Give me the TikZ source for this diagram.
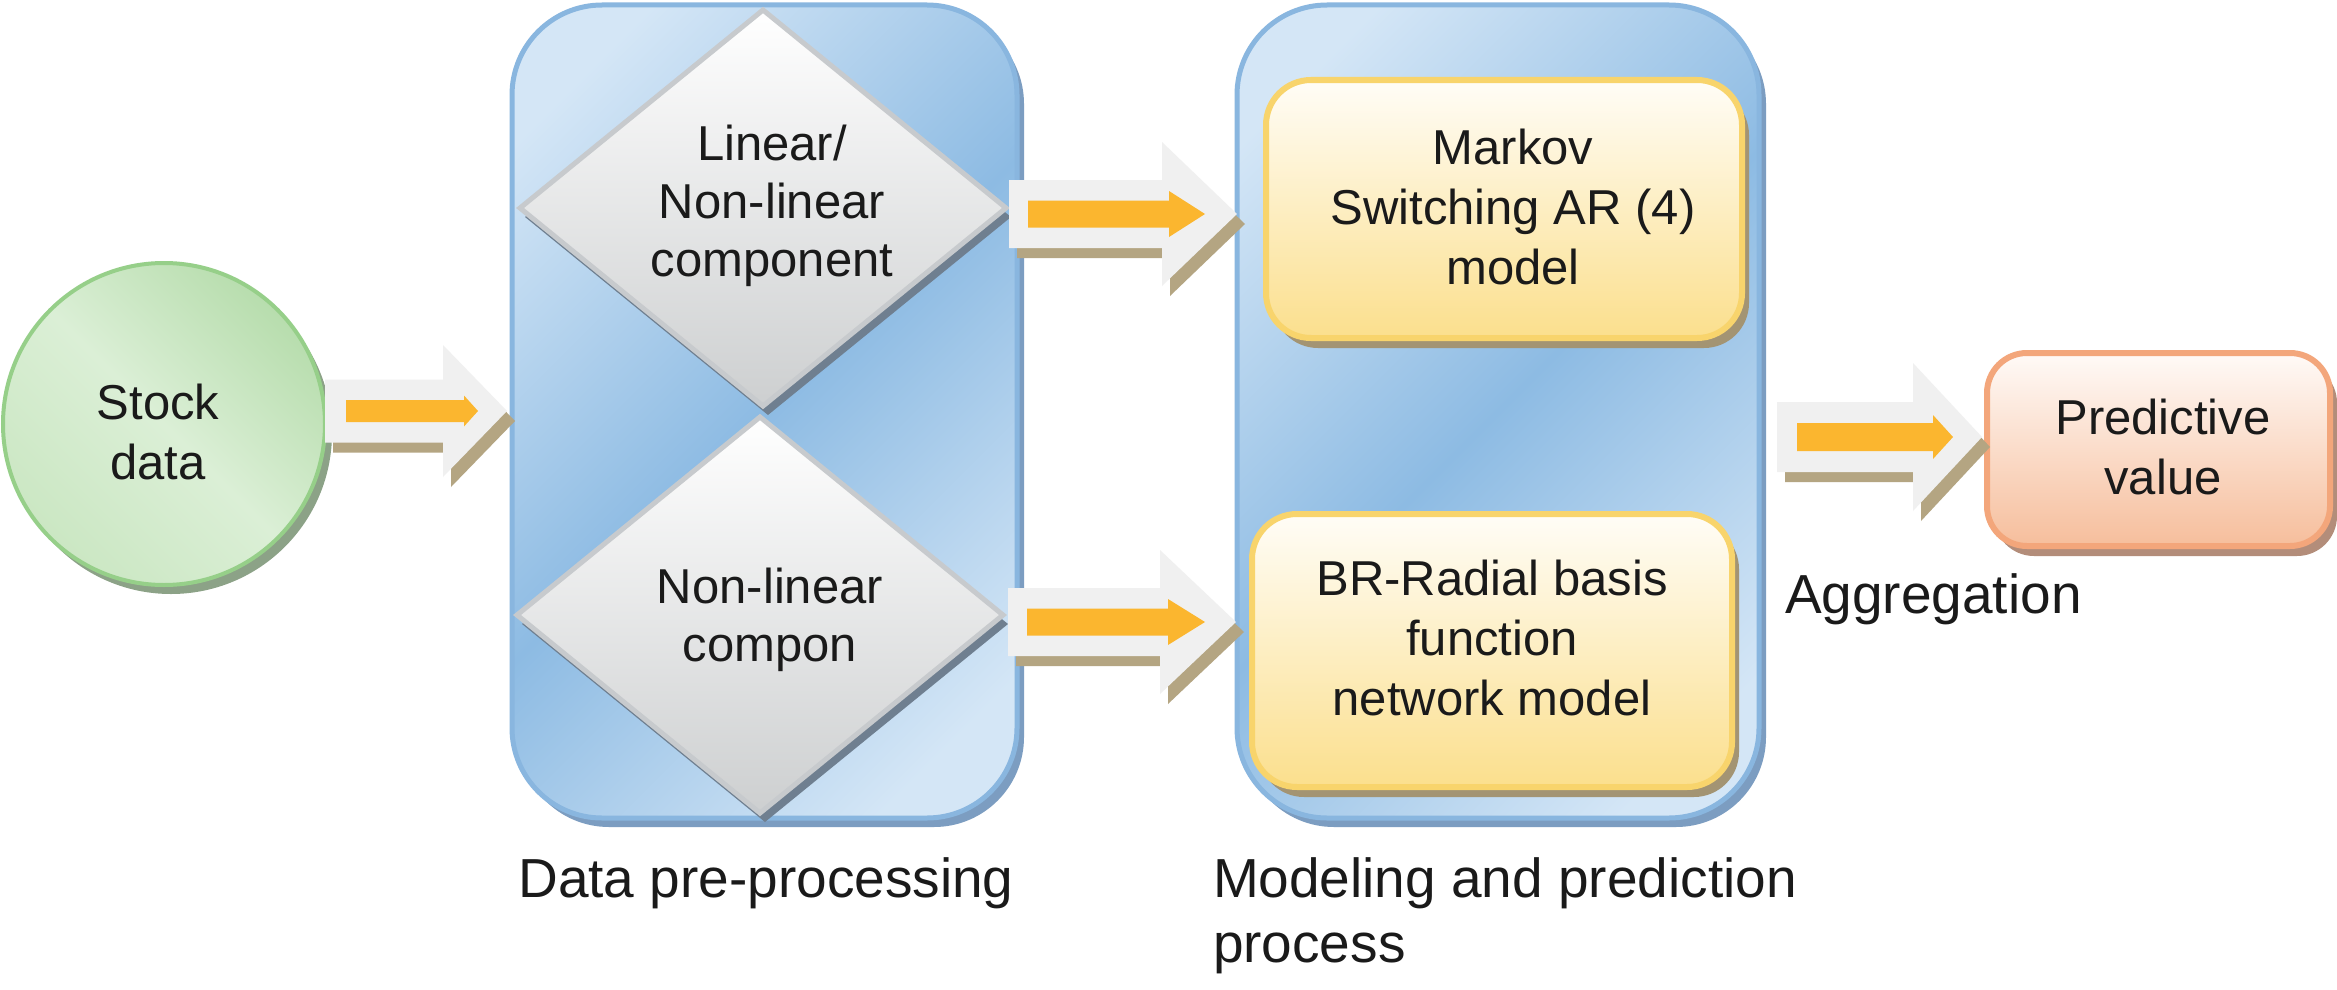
\documentclass[tikz,border=0pt]{standalone}
\usepackage{fontspec}
\setmainfont{Liberation Sans}
\usetikzlibrary{shapes.geometric,shadows}
\definecolor{txt}{HTML}{1A1A1A}
\definecolor{pnlL}{HTML}{D4E6F6}
\definecolor{pnlD}{HTML}{8DBBE3}
\definecolor{pnlB}{HTML}{89B6DF}
\definecolor{pnlS}{HTML}{7C9DC1}
\definecolor{grnB}{HTML}{96CF89}
\definecolor{grnL}{HTML}{DBEFD6}
\definecolor{grnD}{HTML}{B7DDAD}
\definecolor{grnM}{HTML}{CBE7C3}
\definecolor{grnS}{HTML}{8CA287}
\definecolor{dmdB}{HTML}{C7CACD}
\definecolor{dmdD}{HTML}{CDCFD0}
\definecolor{dmdS}{HTML}{6F7F90}
\definecolor{ylwB}{HTML}{F8D46C}
\definecolor{ylwT}{HTML}{FFFDF7}
\definecolor{ylwD}{HTML}{FBDF8D}
\definecolor{ylwS}{HTML}{A39473}
\definecolor{orgB}{HTML}{F3A67B}
\definecolor{orgT}{HTML}{FFFAF7}
\definecolor{orgD}{HTML}{F6BE9C}
\definecolor{orgS}{HTML}{B38D7A}
\definecolor{arrW}{HTML}{F0F0F0}
\definecolor{arrS}{HTML}{B4A582}
\definecolor{arrO}{HTML}{FBB62F}
\pgfdeclarehorizontalshading{panelshade}{100bp}{color(0bp)=(pnlL); color(22bp)=(pnlL); color(50bp)=(pnlD); color(78bp)=(pnlL); color(100bp)=(pnlL)}
\pgfdeclarehorizontalshading{greenshade}{100bp}{color(0bp)=(grnD); color(25bp)=(grnD); color(50bp)=(grnL); color(75bp)=(grnM); color(100bp)=(grnM)}
% block arrow: style, tail x, head start x, tip x, centre y, body half height, head half height
\newcommand\blockarr[7]{%
  \fill[#1] ({#2},{#5-#6}) -- ({#3},{#5-#6}) -- ({#3},{#5-#7}) -- ({#4},{#5})
    -- ({#3},{#5+#7}) -- ({#3},{#5+#6}) -- ({#2},{#5+#6}) -- cycle;}
% white block arrow with its shadow: tail, head start, tip, cy, body half, head half
\newcommand\fullarr[6]{%
  \begin{scope}[shift={(8,10)}]\blockarr{arrS}{#1}{#2}{#3}{#4}{#5}{#6}\end{scope}
  \blockarr{arrW}{#1}{#2}{#3}{#4}{#5}{#6}}
\begin{document}
\begin{tikzpicture}[x=1pt,y=-1pt,
  every node/.style={inner sep=0pt, outer sep=0pt},
  nodetext/.style={font=\fontsize{49}{60}\selectfont, text=txt, align=center},
  dmdtext/.style={font=\fontsize{49}{58}\selectfont, text=txt, align=center},
  caption/.style={font=\fontsize{55}{65}\selectfont, text=txt, align=left},
  panel/.style={rectangle, draw=pnlB, line width=5pt, rounded corners=90pt,
    shading=panelshade, shading angle=-45,
    drop shadow={shadow xshift=7pt, shadow yshift=-9pt, fill=pnlS, opacity=1}},
  source/.style={circle, draw=grnB, line width=4pt, shading=greenshade, shading angle=225,
    drop shadow={shadow xshift=7pt, shadow yshift=-9pt, fill=grnS, opacity=1}},
  decision/.style={diamond, draw=dmdB, line width=5pt, top color=white, bottom color=dmdD,
    minimum width=486pt, minimum height=396pt,
    drop shadow={shadow xshift=5pt, shadow yshift=-9pt, fill=dmdS, opacity=1}},
  model/.style={rectangle, rounded corners=45pt, draw=ylwB, line width=6pt,
    top color=ylwT, bottom color=ylwD,
    drop shadow={shadow xshift=7pt, shadow yshift=-10pt, fill=ylwS, opacity=1}},
  result/.style={rectangle, rounded corners=40pt, draw=orgB, line width=6pt,
    top color=orgT, bottom color=orgD,
    drop shadow={shadow xshift=7pt, shadow yshift=-10pt, fill=orgS, opacity=1}}
]
\fill[white] (0,0) rectangle (2337,990);
\useasboundingbox (0,0) rectangle (2337,990);

% source
\node[source, minimum size=322pt] (stock) at (164,424) {};
\node[nodetext] (stockt) at (158,432) {Stock\\data};

% panels
\node[panel, minimum width=505pt, minimum height=813pt] (pre) at (764.5,411.5) {};
\node[panel, minimum width=522pt, minimum height=813pt] (mod) at (1498,411.5) {};

% diamonds
\node[decision] (nonlin) at (760,615) {};
\node[decision] (linnon) at (763,208) {};
\node[dmdtext] (linnont) at (772,206) {Linear/\\Non-linear\\component};
\node[dmdtext] (nonlint) at (770,620) {Non-linear\\compon};

% model boxes
\node[model, minimum width=476pt, minimum height=258pt] (msar) at (1504,209) {};
\node[nodetext] (msart) at (1513,207) {Markov\\Switching AR (4)\\model};
\node[model, minimum width=480pt, minimum height=273pt] (rbf) at (1492,650.5) {};
\node[nodetext] (rbft) at (1492,638) {BR-Radial basis\\function\\network model};

% result
\node[result, minimum width=343pt, minimum height=193pt] (pred) at (2158.5,449.5) {};
\node[nodetext] (predt) at (2163,447) {Predictive\\value};

% block arrows (white with shadow, orange inside)
\fullarr{325}{443}{507}{411}{31.5}{66}
\blockarr{arrO}{346}{464}{478}{411}{11}{15.5}
\fullarr{1009}{1162}{1237}{214}{34}{72}
\blockarr{arrO}{1028}{1169}{1205}{214}{13.5}{23}
\fullarr{1008}{1160}{1236}{622}{34}{72}
\blockarr{arrO}{1027}{1168}{1205}{622}{13.5}{23}
\fullarr{1777}{1913}{1982}{437}{35}{74}
\blockarr{arrO}{1797}{1933}{1953}{437}{14}{22}

% captions
\node[caption, anchor=base] (prec) at (766,897) {Data pre-processing};
\node[caption, anchor=north west] (modc) at (1213,858) {Modeling and prediction\\process};
\node[caption, anchor=base west] (aggc) at (1785,613) {Aggregation};
\end{tikzpicture}
\end{document}
